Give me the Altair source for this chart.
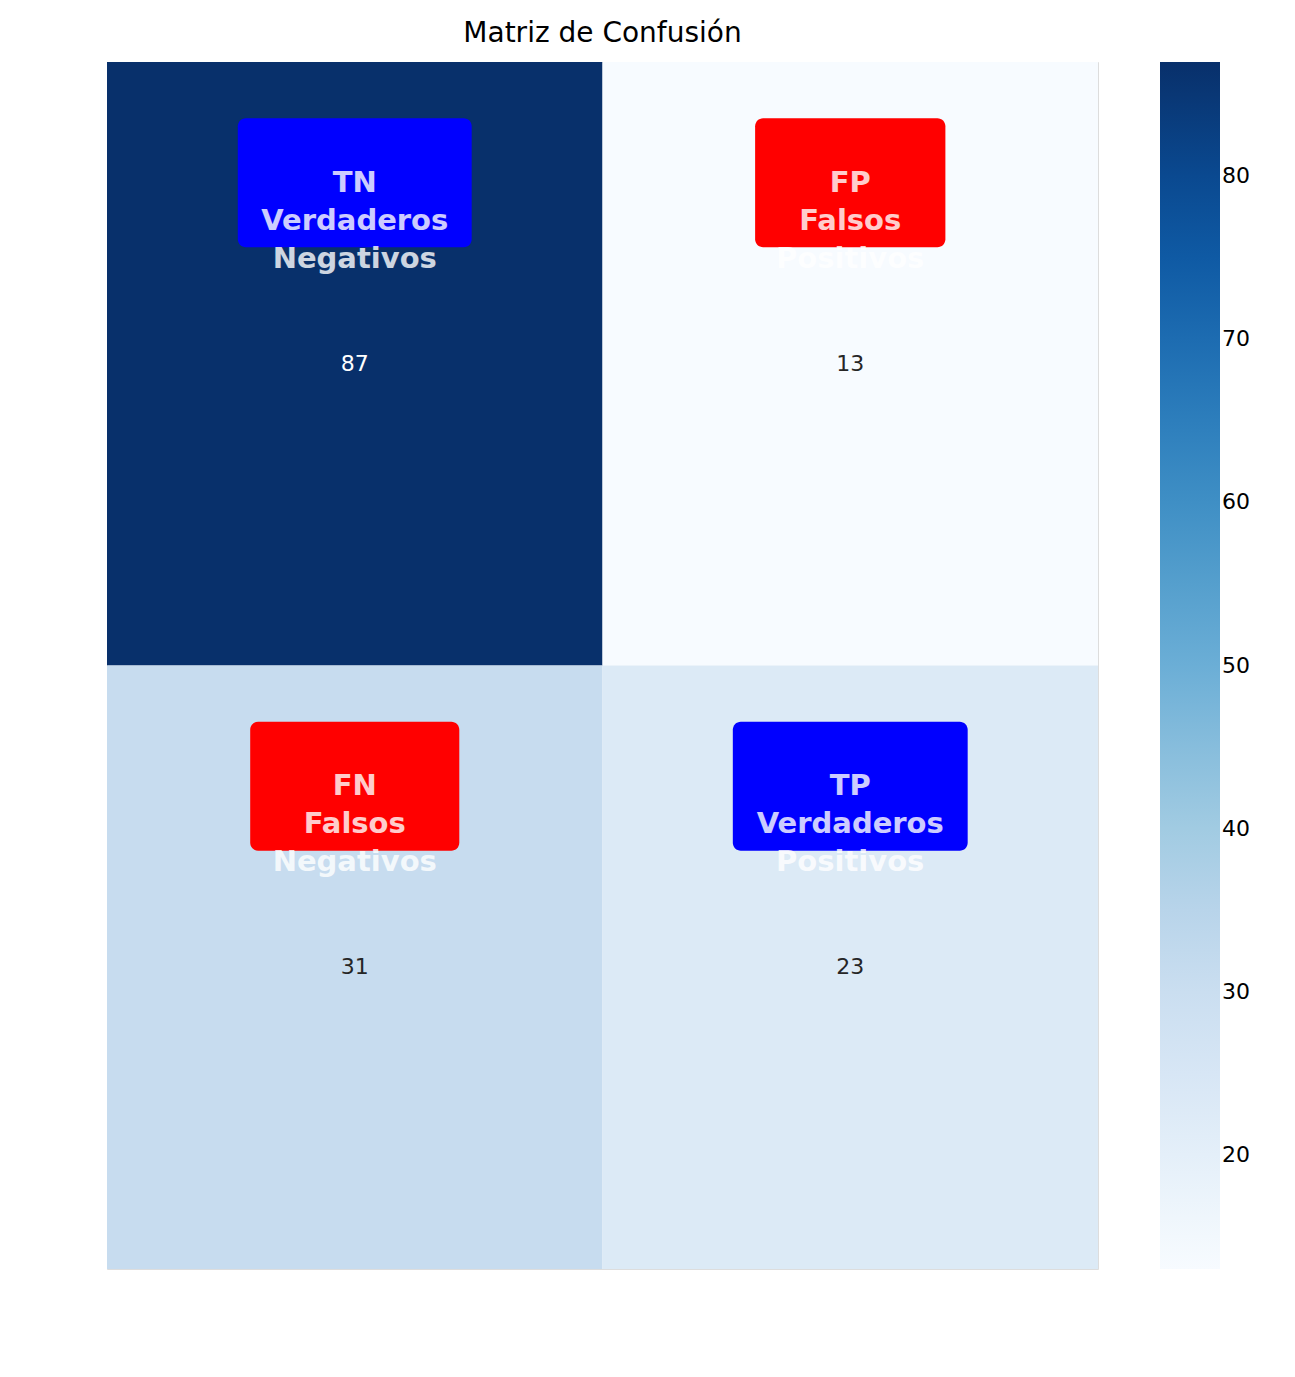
import pandas as pd
import altair as alt

# confusion matrix values
pred = ["Negativo", "Positivo", "Negativo", "Positivo"]
real = ["Negativo", "Negativo", "Positivo", "Positivo"]
counts = [87, 13, 31, 23]
tags = ["TN\nVerdaderos\nNegativos", "FP\nFalsos\nPositivos",
        "FN\nFalsos\nNegativos", "TP\nVerdaderos\nPositivos"]
tag_color = ["#0000ff", "#ff0000", "#ff0000", "#0000ff"]
# box half-widths as fraction of a cell (style)
half_w = [0.236, 0.192, 0.211, 0.237]

col = [0, 1, 0, 1]
row = [0, 0, 1, 1]

df = pd.DataFrame({"pred": pred, "real": real, "n": counts, "tag": tags,
                   "tcol": tag_color})
df["cx"] = [c + 0.5 for c in col]
df["x0"] = [c + 0.5 - w for c, w in zip(col, half_w)]
df["x1"] = [c + 0.5 + w for c, w in zip(col, half_w)]
df["y0"] = [r + 0.093 for r in row]
df["y1"] = [r + 0.307 for r in row]
df["ty"] = [r + 0.2 for r in row]
df["dark"] = [n > 50 for n in counts]

blues = ["#f7fbff", "#deebf7", "#c6dbef", "#9ecae1", "#6baed6",
         "#4292c6", "#2171b5", "#08519c", "#08306b"]
order = ["Negativo", "Positivo"]

base = alt.Chart(df)

heat = base.mark_rect().encode(
    x=alt.X("pred:N", sort=order, title="Predicción",
            axis=alt.Axis(orient="bottom", labelAngle=0, labelFontSize=22, titleFontSize=22,
                          tickSize=8, labelPadding=8, titlePadding=12, domain=False)),
    y=alt.Y("real:N", sort=order, title="Valor Real",
            axis=alt.Axis(orient="left", labelAngle=-90, labelFontSize=22, titleFontSize=22,
                          tickSize=8, labelPadding=8, titlePadding=12, domain=False,
                          labelBaseline="middle")),
    color=alt.Color("n:Q", title=None,
                    scale=alt.Scale(range=blues, domain=[13, 87]),
                    legend=alt.Legend(orient="none", legendX=1053, legendY=0,
                                      gradientLength=1207, gradientThickness=60,
                                      labelFontSize=22, values=[20, 30, 40, 50, 60, 70, 80],
                                      direction="vertical")),
)

nums = base.mark_text(fontSize=22).encode(
    x=alt.X("pred:N", sort=order, axis=None),
    y=alt.Y("real:N", sort=order, axis=None),
    text="n:Q",
    color=alt.condition("datum.dark", alt.value("white"), alt.value("#262626")),
)

boxes = base.mark_rect(cornerRadius=8).encode(
    x=alt.X("x0:Q", scale=alt.Scale(domain=[0, 2]), axis=None),
    x2="x1:Q",
    y=alt.Y("y0:Q", scale=alt.Scale(domain=[2, 0]), axis=None),
    y2="y1:Q",
    color=alt.Color("tcol:N", scale=None),
)

labels = base.mark_text(fontSize=29, fontWeight="bold", lineHeight=38, lineBreak="\n",
                        color="white", opacity=0.8, baseline="middle").encode(
    x=alt.X("cx:Q", scale=alt.Scale(domain=[0, 2]), axis=None),
    y=alt.Y("ty:Q", scale=alt.Scale(domain=[2, 0]), axis=None),
    text="tag:N",
)

chart = alt.layer(alt.layer(heat, nums), alt.layer(boxes, labels)).resolve_scale(
    x="independent", y="independent", color="independent"
).properties(
    width=991, height=1207,
    title=alt.Title("Matriz de Confusión", fontSize=28, fontWeight="normal", offset=14),
    autosize=alt.AutoSizeParams(type="none"),
    padding={"left": 99, "top": 54, "right": 180, "bottom": 100},
).configure_view(stroke=None).configure(
    font="DejaVu Sans"
).configure_axis(labelColor="black", titleColor="black", titleFontWeight="normal")

chart.save("out.html", embed_options={"renderer": "svg", "actions": False})
